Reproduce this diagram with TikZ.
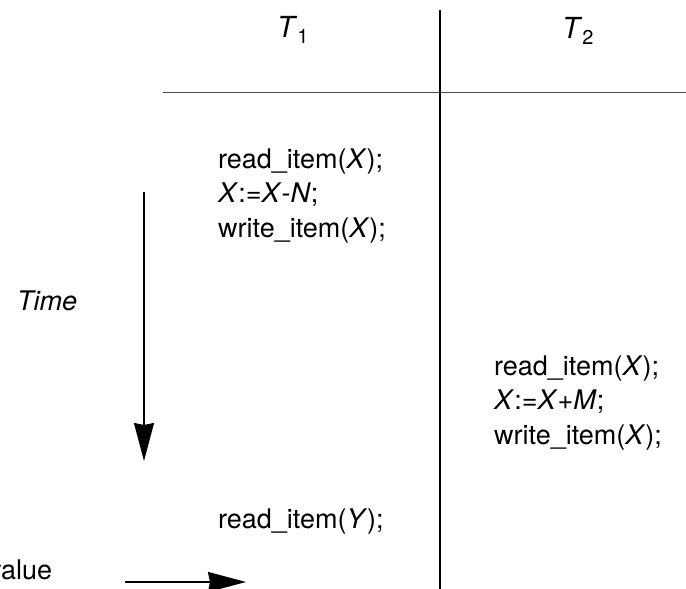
\documentclass[tikz,border=0pt]{standalone}
\usepackage{fontspec}
\setmainfont{TeX Gyre Heros}
\usetikzlibrary{positioning,arrows.meta}

\newcommand{\trans}[1]{\textit{T}\raisebox{-0.45ex}{\fontsize{20}{20}\selectfont #1}}

\begin{document}
\begin{tikzpicture}[x=1pt,y=-1pt,
  op/.style={anchor=base west,inner sep=0pt,font=\fontsize{27}{34}\selectfont},
  head/.style={anchor=base west,inner sep=0pt,font=\fontsize{29}{30}\selectfont},
  flow/.style={-{Stealth[length=38pt,width=20pt,inset=2pt]},line width=1.8pt}]
\useasboundingbox (0,0) rectangle (686,589);
\clip (0,0) rectangle (686,589);
% column heads
\node[head] (t1) at (277,37) {\trans{1}};
\node[head] (t2) at (562,38) {\trans{2}};
\coordinate (divtop) at (440,10);
\coordinate (divbot) at (440,589);
\coordinate (rulel) at (163,92);
\coordinate (ruler) at (686,92);
\draw[line width=1pt,black!70] (rulel) -- (ruler);
\draw[line width=2pt] (divtop) -- (divbot);
% operations of T1
\node[op] (rx1) at (218,168) {read\_item(\textit{X});};
\node[op] (xn) at (218,202) {\textit{X}:=\textit{X}-\textit{N};};
\node[op] (wx1) at (218,237) {write\_item(\textit{X});};
\node[op] (ry) at (218,528) {read\_item(\textit{Y});};
% operations of T2
\node[op] (rx2) at (494,375) {read\_item(\textit{X});};
\node[op] (xm) at (494,409) {\textit{X}:=\textit{X}+\textit{M};};
\node[op] (wx2) at (494,444) {write\_item(\textit{X});};
% time axis
\node[op,font=\fontsize{27}{30}\itshape] (time) at (17,310) {Time};
\coordinate (tstart) at (144,192);
\coordinate (tend) at (144,461);
\draw[flow] (tstart) -- (tend);
% value
\node[op] (value) at (-12,579) {value};
\coordinate (vstart) at (125,582);
\coordinate (vend) at (246,582);
\draw[flow] (vstart) -- (vend);
\end{tikzpicture}
\end{document}
